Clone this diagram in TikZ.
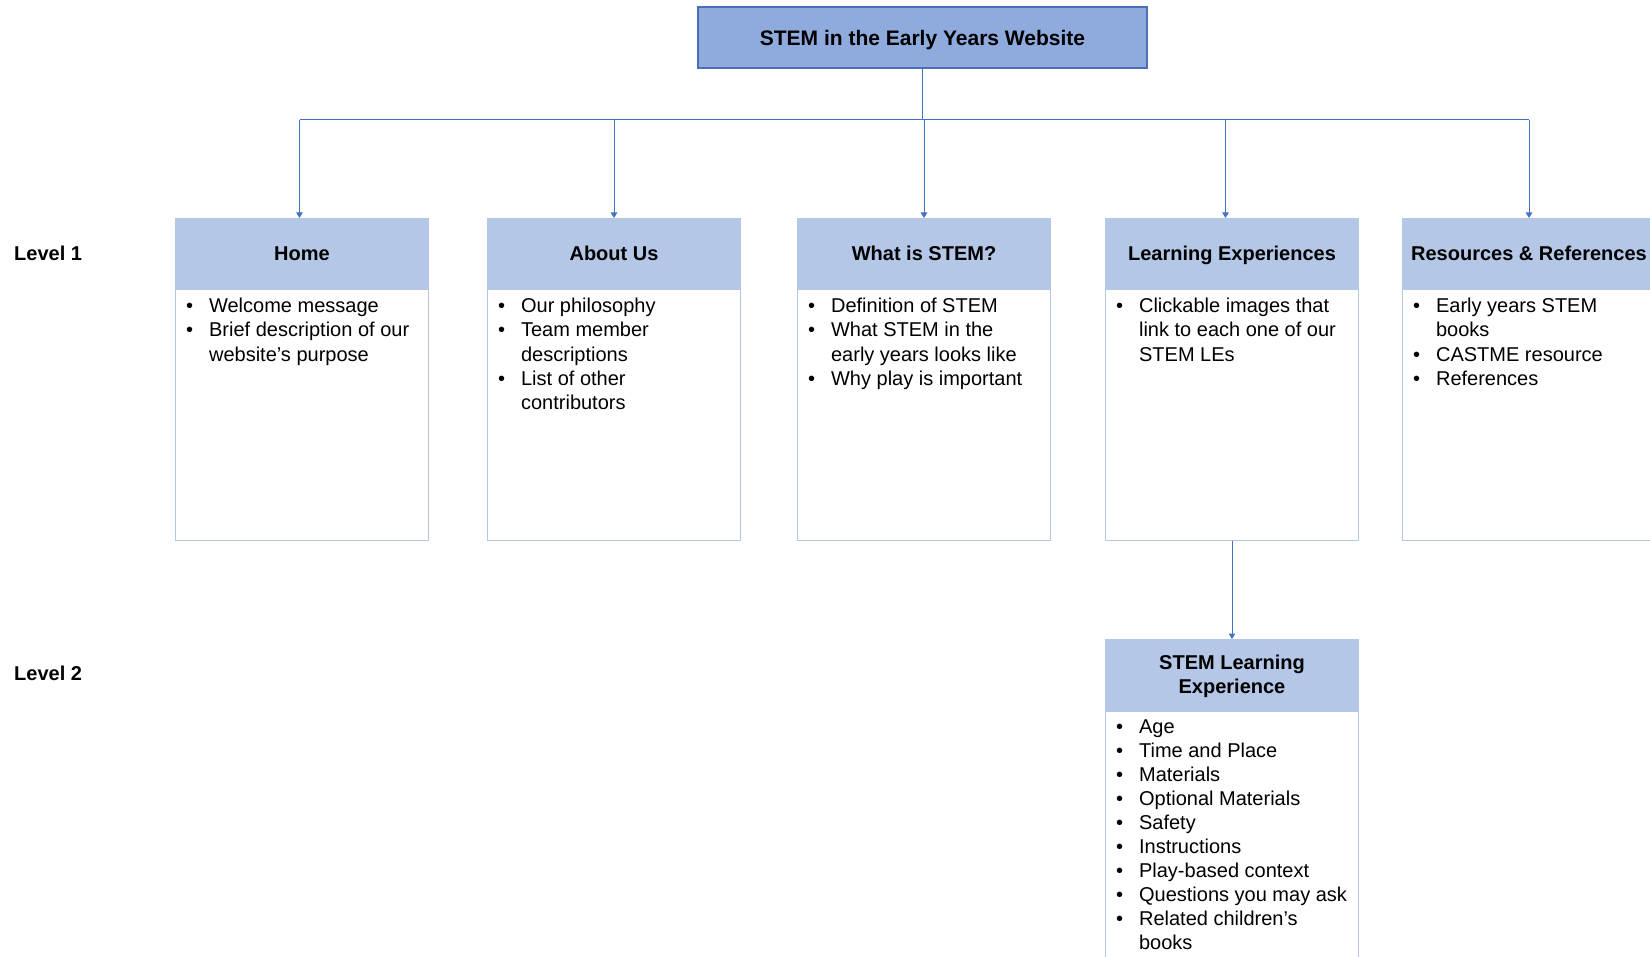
\documentclass[tikz,border=0pt]{standalone}
\usepackage{fontspec}
\setmainfont{Liberation Sans}
\usetikzlibrary{arrows.meta,calc}
\definecolor{topfill}{HTML}{8FAADC}
\definecolor{topline}{HTML}{4A6FB8}
\definecolor{hdrfill}{HTML}{B4C7E7}
\definecolor{wire}{HTML}{4472C4}
\newcommand{\bl}{\makebox[23pt][l]{•}}
\newcommand{\cont}{\hspace*{23pt}}
\tikzset{
  titlebox/.style={draw=topline, line width=1.3pt, fill=topfill, minimum width=449, minimum height=61,
    inner sep=0pt, text height=19pt, text depth=2.5pt, font=\fontsize{21}{25}\selectfont\bfseries},
  hdr/.style={draw=hdrfill, line width=1pt, fill=hdrfill, minimum width=253, inner sep=0pt,
    font=\fontsize{20}{24}\selectfont\bfseries, align=center, anchor=north west},
  onerow/.style={text height=18pt, text depth=3.7pt},
  bodybox/.style={draw=hdrfill, line width=1.2pt, fill=white, minimum width=253, inner sep=0pt, anchor=north},
  items/.style={inner sep=0pt, anchor=north west, align=left, font=\fontsize{20}{24.2}\selectfont},
  lvl/.style={inner sep=0pt, anchor=west, font=\fontsize{20}{24}\selectfont\bfseries},
  wireline/.style={draw=wire, line width=1pt},
  arr/.style={wireline, -{Triangle[width=6.5pt,length=5.5pt]}},
}
\begin{document}
\begin{tikzpicture}[x=1pt,y=-1pt]
\useasboundingbox (0,0) rectangle (1650,957);
\clip (0,0) rectangle (1650,957);

% root
\node[titlebox] (root) at (922.5,37.5) {STEM in the Early Years Website};

% level labels
\node[lvl] (lv1) at (14,253) {Level 1};
\node[lvl] (lv2) at (14,673) {Level 2};

% level 1 cards: header, body, bullet list
\node[hdr, onerow, minimum height=70] (home) at (175,218) {Home};
\node[bodybox, minimum height=251] (homeb) at (home.south) {};
\node[items] (homet) at ($(homeb.north west)+(11,9)$)
  {\bl Welcome message\\ \bl Brief description of our\\ \cont website’s purpose};

\node[hdr, onerow, minimum height=70] (about) at (487,218) {About Us};
\node[bodybox, minimum height=251] (aboutb) at (about.south) {};
\node[items] (aboutt) at ($(aboutb.north west)+(11,9)$)
  {\bl Our philosophy\\ \bl Team member\\ \cont descriptions\\ \bl List of other\\ \cont contributors};

\node[hdr, onerow, minimum height=70] (what) at (797,218) {What is STEM?};
\node[bodybox, minimum height=251] (whatb) at (what.south) {};
\node[items] (whatt) at ($(whatb.north west)+(11,9)$)
  {\bl Definition of STEM\\ \bl What STEM in the\\ \cont early years looks like\\ \bl Why play is important};

\node[hdr, onerow, minimum height=70] (le) at (1105,218) {Learning Experiences};
\node[bodybox, minimum height=251] (leb) at (le.south) {};
\node[items] (let) at ($(leb.north west)+(11,9)$)
  {\bl Clickable images that\\ \cont link to each one of our\\ \cont STEM LEs};

\node[hdr, onerow, minimum height=70] (res) at (1402,218) {Resources \& References};
\node[bodybox, minimum height=251] (resb) at (res.south) {};
\node[items] (rest) at ($(resb.north west)+(11,9)$)
  {\bl Early years STEM\\ \cont books\\ \bl CASTME resource\\ \bl References};

% level 2 card
\node[hdr, minimum height=71] (sle) at (1105,639) {\rule{0pt}{17pt}STEM Learning\\Experience};
\node[bodybox, minimum height=300] (sleb) at (sle.south) {};
\node[items, font=\fontsize{20}{24}\selectfont] (slet) at ($(sleb.north west)+(11,9)$)
  {\bl Age\\ \bl Time and Place\\ \bl Materials\\ \bl Optional Materials\\ \bl Safety\\
   \bl Instructions\\ \bl Play-based context\\ \bl Questions you may ask\\
   \bl Related children’s\\ \cont books};

% connectors
\coordinate (bus) at (0,120);
\draw[wireline] (root.south) -- (root.south |- bus);
\draw[wireline] ([xshift=-2.5]home.north |- bus) -- (res.north |- bus);
\draw[arr] ([xshift=-2.5]home.north |- bus) -- ([xshift=-2.5]home.north);
\draw[arr] (about.north |- bus) -- (about.north);
\draw[arr] (what.north |- bus) -- (what.north);
\draw[arr] ([xshift=-6.5]le.north |- bus) -- ([xshift=-6.5]le.north);
\draw[arr] (res.north |- bus) -- (res.north);
\draw[arr] (leb.south) -- (sle.north);
\end{tikzpicture}
\end{document}
